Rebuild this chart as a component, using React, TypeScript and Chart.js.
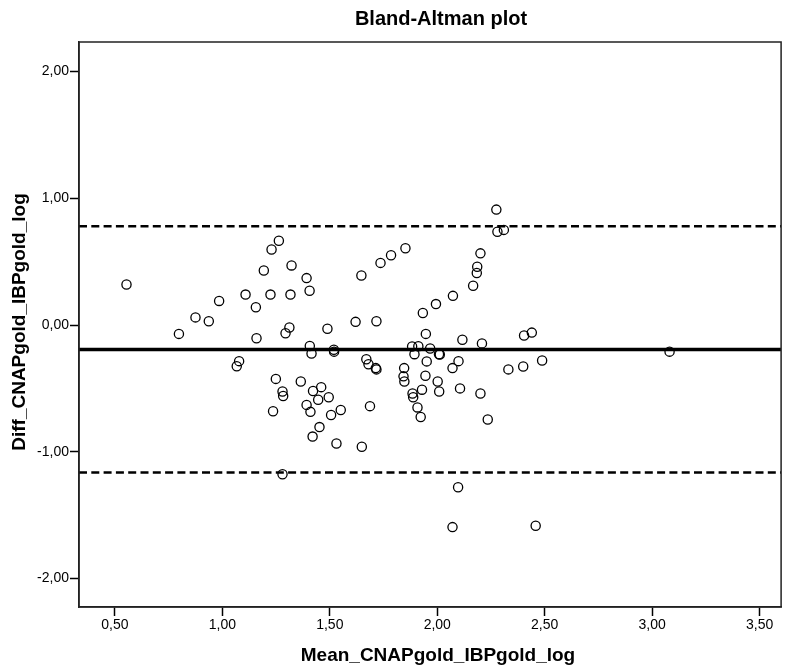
import React, { useEffect, useRef } from "react";
import { Chart, registerables } from "chart.js";

Chart.register(...registerables);

const TITLE = "Bland-Altman plot";
const X_LABEL = "Mean_CNAPgold_IBPgold_log";
const Y_LABEL = "Diff_CNAPgold_IBPgold_log";

const X_TICKS = [0.5, 1.0, 1.5, 2.0, 2.5, 3.0, 3.5];
const Y_TICKS = [-2, -1, 0, 1, 2];
const X_RANGE = [0.333, 3.6];
const Y_RANGE = [-2.224, 2.232];

const MEAN_DIFF = -0.193;
const UPPER_LOA = 0.778;
const LOWER_LOA = -1.164;

const MEAN_VALUES = [
  0.554, 0.798, 0.875, 0.937, 0.985, 1.078, 1.067, 1.108, 1.156, 1.159,
  1.193, 1.229, 1.263, 1.224, 1.249, 1.28, 1.283, 1.322, 1.317, 1.312,
  1.294, 1.236, 1.28, 1.392, 1.406, 1.489, 1.407, 1.415, 1.519, 1.52,
  1.647, 1.62, 1.717, 1.736, 1.785, 1.852, 1.67, 1.68, 1.714, 1.717,
  1.365, 1.422, 1.46, 1.446, 1.495, 1.883, 1.912, 1.894, 1.967, 1.947,
  1.933, 1.994, 2.073, 2.117, 2.008, 2.012, 1.951, 1.846, 1.843, 1.847,
  1.945, 2.002, 2.099, 2.071, 2.009, 1.929, 1.885, 1.888, 2.106, 2.201,
  2.208, 2.167, 2.184, 2.186, 2.201, 2.275, 2.28, 2.31, 2.331, 2.404,
  2.44, 2.488, 2.4, 1.392, 1.41, 1.506, 1.551, 1.452, 1.42, 1.531,
  1.649, 1.687, 1.908, 1.923, 2.235, 2.097, 2.071, 2.458, 3.081,
];

const DIFF_VALUES = [
  0.32, -0.07, 0.06, 0.03, 0.19, -0.285, -0.325, 0.24, 0.14, -0.105,
  0.43, 0.595, 0.665, 0.24, -0.425, -0.525, -0.56, 0.47, 0.24, -0.02,
  -0.065, -0.68, -1.177, 0.37, 0.27, -0.03, -0.165, -0.225, -0.195, -0.21,
  0.39, 0.025, 0.03, 0.49, 0.55, 0.605, -0.27, -0.31, -0.34, -0.35,
  -0.446, -0.52, -0.49, -0.59, -0.57, -0.17, -0.167, -0.23, -0.185, -0.07,
  0.095, 0.165, 0.23, -0.116, -0.23, -0.232, -0.287, -0.34, -0.405, -0.445,
  -0.4, -0.445, -0.285, -0.34, -0.525, -0.51, -0.54, -0.57, -0.5, -0.54,
  -0.145, 0.31, 0.41, 0.46, 0.565, 0.91, 0.735, 0.75, -0.35, -0.083,
  -0.06, -0.28, -0.327, -0.63, -0.685, -0.71, -0.67, -0.805, -0.88, -0.935,
  -0.96, -0.64, -0.65, -0.725, -0.745, -1.28, -1.594, -1.583, -0.21,
];

const FONT = "Arial, 'Liberation Sans', sans-serif";
const fmt = (v: number) => v.toFixed(2).replace(".", ",");

const textPlugin = {
  id: "textPlugin",
  afterDraw(chart: any) {
    const { ctx, chartArea } = chart;
    ctx.save();
    // frame
    ctx.strokeStyle = "#222";
    ctx.lineWidth = 1.5;
    ctx.strokeRect(chartArea.left, chartArea.top, chartArea.right - chartArea.left, chartArea.bottom - chartArea.top);
    ctx.fillStyle = "#000";
    ctx.textAlign = "center";
    ctx.textBaseline = "middle";
    ctx.font = `bold 20px ${FONT}`;
    ctx.fillText(TITLE, 441, 19);
    ctx.font = `bold 19px ${FONT}`;
    ctx.fillText(X_LABEL, 438, 656);
    ctx.translate(20, 322);
    ctx.rotate(-Math.PI / 2);
    ctx.fillText(Y_LABEL, 0, 0);
    ctx.restore();
  },
};

export default function App() {
  const ref = useRef<HTMLCanvasElement | null>(null);

  useEffect(() => {
    if (!ref.current) return;
    const points = MEAN_VALUES.map((x, i) => ({ x, y: DIFF_VALUES[i] }));
    const hline = (y: number) => [
      { x: X_RANGE[0], y },
      { x: X_RANGE[1], y },
    ];
    const chart = new Chart(ref.current, {
      type: "scatter",
      data: {
        datasets: [
          {
            type: "line",
            data: hline(MEAN_DIFF),
            borderColor: "#000",
            borderWidth: 3.5,
            pointRadius: 0,
            fill: false,
          } as any,
          {
            type: "line",
            data: hline(UPPER_LOA),
            borderColor: "#000",
            borderWidth: 2.5,
            borderDash: [8, 4.3],
            pointRadius: 0,
            fill: false,
          } as any,
          {
            type: "line",
            data: hline(LOWER_LOA),
            borderColor: "#000",
            borderWidth: 2.5,
            borderDash: [8, 4.3],
            pointRadius: 0,
            fill: false,
          } as any,
          {
            type: "scatter",
            data: points,
            pointStyle: "circle",
            pointRadius: 4.6,
            borderWidth: 1.3,
            borderColor: "#000",
            backgroundColor: "rgba(0,0,0,0)",
          },
        ],
      },
      options: {
        responsive: false,
        animation: false,
        devicePixelRatio: 1,
        layout: { padding: { top: 42, right: 4, left: 0, bottom: 0 } },
        plugins: {
          legend: { display: false },
          title: { display: false },
          tooltip: { enabled: false },
        },
        scales: {
          x: {
            type: "linear",
            min: X_RANGE[0],
            max: X_RANGE[1],
            afterFit: (s: any) => {
              s.height = 65;
            },
            afterBuildTicks: (s: any) => {
              s.ticks = X_TICKS.map((v) => ({ value: v }));
            },
            ticks: {
              callback: (v: any) => fmt(Number(v)),
              font: { family: FONT, size: 14 },
              color: "#000",
              padding: 1,
              maxRotation: 0,
              autoSkip: false,
            },
            grid: {
              drawOnChartArea: false,
              drawTicks: true,
              tickLength: 9,
              tickColor: "#000",
              tickWidth: 1.5,
            },
            border: { display: true, color: "#222", width: 1.5 },
          },
          y: {
            type: "linear",
            min: Y_RANGE[0],
            max: Y_RANGE[1],
            afterFit: (s: any) => {
              s.width = 79;
            },
            afterBuildTicks: (s: any) => {
              s.ticks = Y_TICKS.map((v) => ({ value: v }));
            },
            ticks: {
              callback: (v: any) => fmt(Number(v)),
              font: { family: FONT, size: 14 },
              color: "#000",
              padding: 1,
              autoSkip: false,
            },
            grid: {
              drawOnChartArea: false,
              drawTicks: true,
              tickLength: 9,
              tickColor: "#000",
              tickWidth: 1.5,
            },
            border: { display: true, color: "#222", width: 1.5 },
          },
        },
      },
      plugins: [textPlugin],
    });
    return () => chart.destroy();
  }, []);

  return (
    <div style={{ position: "absolute", left: 0, top: 0, width: 787, height: 672, background: "#fff" }}>
      <canvas ref={ref} width={787} height={672} style={{ display: "block" }} />
    </div>
  );
}
